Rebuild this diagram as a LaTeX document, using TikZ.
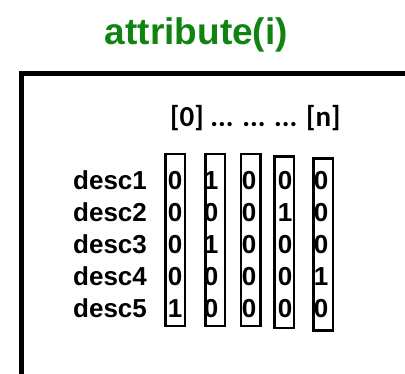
\documentclass[tikz,border=0pt]{standalone}
\usepackage{fontspec}
\setmainfont{Liberation Sans}
\newfontfamily\calibfont{Carlito}
\definecolor{titlegreen}{RGB}{16,132,16}
\tikzset{
  titletext/.style={inner sep=0pt, anchor=base, text=titlegreen, font=\fontsize{37}{40}\selectfont\bfseries},
  hdrtext/.style={inner sep=0pt, anchor=base west, font=\calibfont\fontsize{29}{32}\selectfont\bfseries},
  desclabel/.style={inner sep=0pt, anchor=base west, font=\fontsize{26}{30}\selectfont\bfseries},
  bit/.style={inner sep=0pt, anchor=base, font=\fontsize{26}{30}\selectfont\bfseries},
  colbox/.style={draw, line width=2.5pt, minimum width=19.5pt, minimum height=171.8pt, inner sep=0pt},
  frame/.style={line width=4.5pt}
}
\begin{document}
\begin{tikzpicture}[x=1pt,y=-1pt]
\useasboundingbox (0,0) rectangle (405,373);
% frame
\coordinate (fbl) at (21.5,376);
\coordinate (ftr) at (408,73.5);
\draw[frame] (fbl) |- (ftr);
% title
\node[titletext] (title) at (196.4,44) {attribute(i)};
% header
\node[hdrtext] (hdr) at (170,126) {[0] ... ... ... [n]};
% column boxes
\node[colbox] (c1) at (175.2,239.9) {};
\node[colbox] (c2) at (215.3,239.9) {};
\node[colbox] (c3) at (250.7,239.9) {};
\node[colbox] (c4) at (284.3,242.2) {};
\node[colbox] (c5) at (323.2,244.5) {};
% labels
\foreach \r/\y in {1/189,2/221,3/253,4/285,5/317}{
  \node[desclabel] (d\r) at (73,\y) {desc\r};
}
% bits
\foreach \r/\y/\a/\b/\c/\d/\e in {1/189/0/1/0/0/0, 2/221/0/0/0/1/0, 3/253/0/1/0/0/0, 4/285/0/0/0/0/1, 5/317/1/0/0/0/0}{
  \node[bit] (b\r a) at (175,\y) {\a};
  \node[bit] (b\r b) at (211,\y) {\b};
  \node[bit] (b\r c) at (249,\y) {\c};
  \node[bit] (b\r d) at (285,\y) {\d};
  \node[bit] (b\r e) at (321,\y) {\e};
}
\end{tikzpicture}
\end{document}
